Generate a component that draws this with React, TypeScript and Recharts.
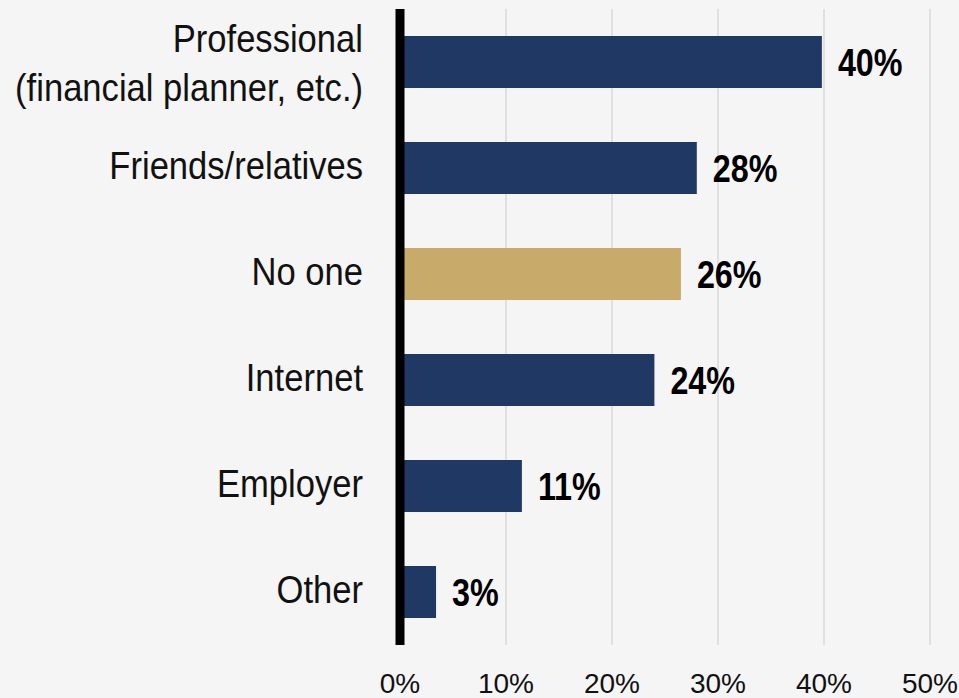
import { BarChart, Bar, XAxis, YAxis, CartesianGrid, Cell, LabelList } from "recharts";

const categories = ["Professional\n(financial planner, etc.)", "Friends/relatives", "No one", "Internet", "Employer", "Other"];
// bar lengths as drawn (labels show them rounded)
const shares = [39.8, 28, 26.5, 24, 11.5, 3.4];
const shareLabels = ["40%", "28%", "26%", "24%", "11%", "3%"];
const xTicks = [0, 10, 20, 30, 40, 50];

const NAVY = "#1f3864";
const GOLD = "#c8aa6a";
const FONT = "'Liberation Sans', Arial, sans-serif";

const data = categories.map((name, i) => ({ name, value: shares[i], label: shareLabels[i] }));

// no narrow font installed, so squeeze the regular one horizontally
function CategoryTick(props: any) {
  const { x, y, payload } = props;
  const lines = String(payload.value).split("\n");
  const lineH = 49;
  const start = 11 - (lines.length - 1) * 21;
  return (
    <g transform={`translate(${x},${y}) scale(0.91,1)`}>
      <text x={0} y={0} textAnchor="end" fill="#111" fontSize={38} fontFamily={FONT}>
        {lines.map((l, i) => (
          <tspan key={i} x={0} dy={i === 0 ? start : lineH}>
            {l}
          </tspan>
        ))}
      </text>
    </g>
  );
}

function ValueLabel(props: any) {
  const { x, y, width, height, value } = props;
  const lx = Number(x) + Number(width) + 16;
  const ly = Number(y) + Number(height) / 2 + 14;
  return (
    <g transform={`translate(${lx},${ly}) scale(0.85,1)`}>
      <text x={0} y={0} fill="#000" fontSize={38} fontWeight={700} fontFamily={FONT}>
        {value}
      </text>
    </g>
  );
}

export default function App() {
  return (
    <div style={{ position: "fixed", left: 0, top: 0, width: 959, height: 698, background: "#f5f5f5" }}>
      <BarChart
        width={959}
        height={698}
        data={data}
        layout="vertical"
        margin={{ top: 9, right: 29, bottom: 0, left: 0 }}
      >
        <CartesianGrid horizontal={false} stroke="#d8d8d8" strokeWidth={1.5} />
        <XAxis
          type="number"
          domain={[0, 50]}
          ticks={xTicks}
          tickFormatter={(v: number) => `${v}%`}
          axisLine={false}
          tickLine={false}
          tickSize={0}
          tickMargin={28}
          height={53}
          tick={{ fontSize: 28, fill: "#111", fontFamily: FONT }}
        />
        <YAxis
          type="category"
          dataKey="name"
          width={400}
          axisLine={{ stroke: "#000", strokeWidth: 9 }}
          tickLine={false}
          tickSize={0}
          tickMargin={37}
          tick={<CategoryTick />}
        />
        <Bar dataKey="value" barSize={52} isAnimationActive={false}>
          {data.map((d, i) => (
            <Cell key={i} fill={d.name === "No one" ? GOLD : NAVY} />
          ))}
          <LabelList dataKey="label" content={<ValueLabel />} />
        </Bar>
      </BarChart>
    </div>
  );
}
